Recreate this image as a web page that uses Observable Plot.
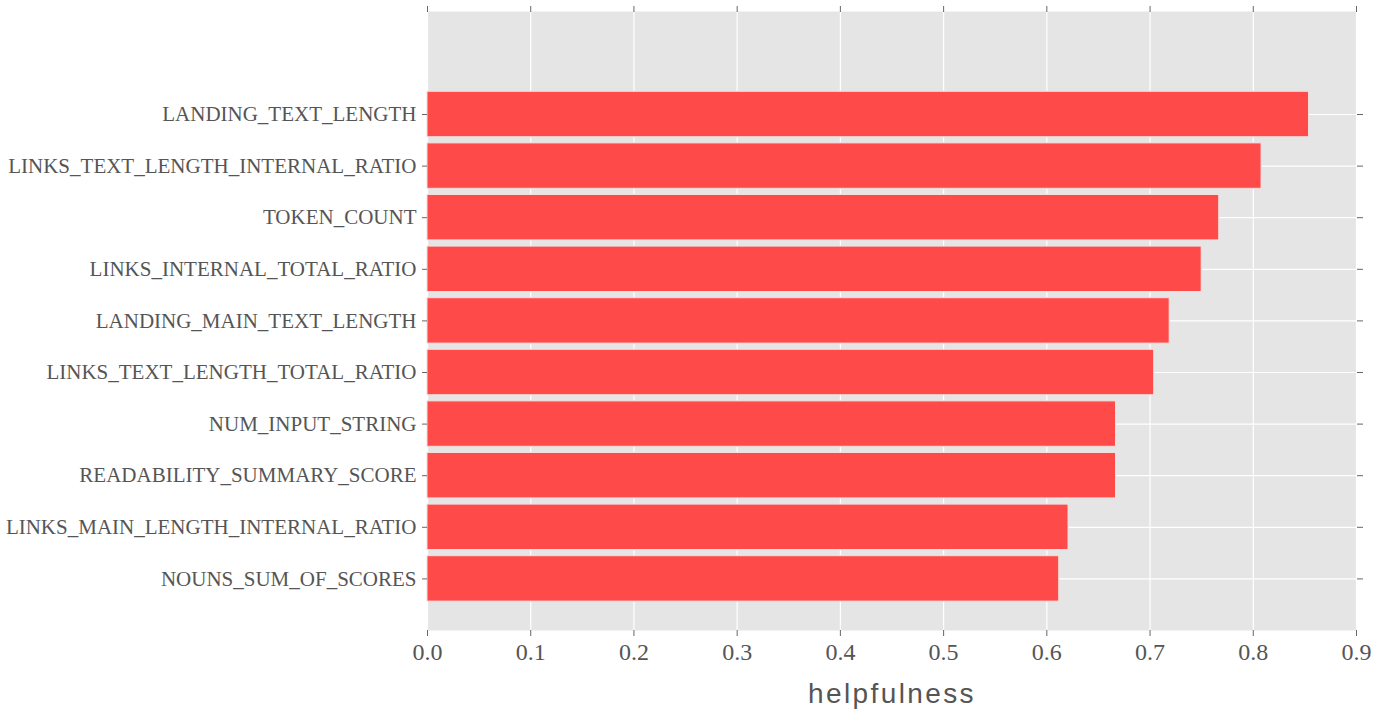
<!DOCTYPE html>
<html>
<head>
<meta charset="utf-8">
<script src="https://cdn.jsdelivr.net/npm/d3@7"></script>
<script src="https://cdn.jsdelivr.net/npm/@observablehq/plot@0.6"></script>
<style>
  html, body { margin: 0; padding: 0; background: #ffffff; }
  #chart { width: 1381px; height: 722px; }
</style>
</head>
<body>
<div id="chart"></div>
<script>
const features = [
  "LANDING_TEXT_LENGTH",
  "LINKS_TEXT_LENGTH_INTERNAL_RATIO",
  "TOKEN_COUNT",
  "LINKS_INTERNAL_TOTAL_RATIO",
  "LANDING_MAIN_TEXT_LENGTH",
  "LINKS_TEXT_LENGTH_TOTAL_RATIO",
  "NUM_INPUT_STRING",
  "READABILITY_SUMMARY_SCORE",
  "LINKS_MAIN_LENGTH_INTERNAL_RATIO",
  "NOUNS_SUM_OF_SCORES"
];
const helpfulness = [0.854, 0.808, 0.767, 0.750, 0.719, 0.704, 0.667, 0.667, 0.621, 0.612];
const xTicks = [0, 0.1, 0.2, 0.3, 0.4, 0.5, 0.6, 0.7, 0.8, 0.9];
const xLabel = "helpfulness";

const data = features.map((f, i) => ({feature: f, value: helpfulness[i]}));

const textColor = "#555555";
const serif = "'Liberation Serif', 'DejaVu Serif', serif";

const chart = Plot.plot({
  width: 1381,
  height: 722,
  marginLeft: 427,
  marginRight: 25,
  marginTop: 11,
  marginBottom: 92,
  style: {background: "#ffffff", fontFamily: serif, color: textColor, overflow: "visible"},
  x: {domain: [0, 0.9], label: null},
  y: {domain: features, range: [88.2, 604.2], paddingInner: 0.12, paddingOuter: 0.06, round: false, label: null},
  marks: [
    Plot.frame({fill: "#e5e5e5", stroke: null}),
    Plot.gridX(xTicks, {stroke: "#ffffff", strokeOpacity: 1, strokeWidth: 1.2}),
    Plot.gridY(features, {stroke: "#ffffff", strokeOpacity: 1, strokeWidth: 1.2}),
    Plot.barX(data, {x: "value", y: "feature", fill: "#ff4a4a", stroke: "#f3dede", strokeWidth: 1}),
    Plot.axisX(xTicks, {anchor: "bottom", tickSize: 6, tickPadding: 6, tickFormat: d3.format(".1f"), fontSize: 24, stroke: "#666666", fill: textColor, label: null}),
    Plot.axisX(xTicks, {anchor: "top", tickSize: 6, text: null, stroke: "#666666", label: null}),
    Plot.axisY(features, {anchor: "left", tickSize: 5, tickPadding: 6, fontSize: 21, stroke: "#666666", fill: textColor, label: null}),
    Plot.axisY(features, {anchor: "right", tickSize: 6, text: null, stroke: "#666666", label: null}),
    Plot.text([xLabel], {frameAnchor: "bottom", dy: 64, text: d => d, fontSize: 28, fontFamily: "'Liberation Sans', Arial, sans-serif", fill: textColor, lineAnchor: "middle"})
  ]
});
d3.select(chart).selectAll("text")
  .filter(function() { return this.textContent === xLabel; })
  .attr("letter-spacing", "2.4px");
document.getElementById("chart").appendChild(chart);
</script>
</body>
</html>
